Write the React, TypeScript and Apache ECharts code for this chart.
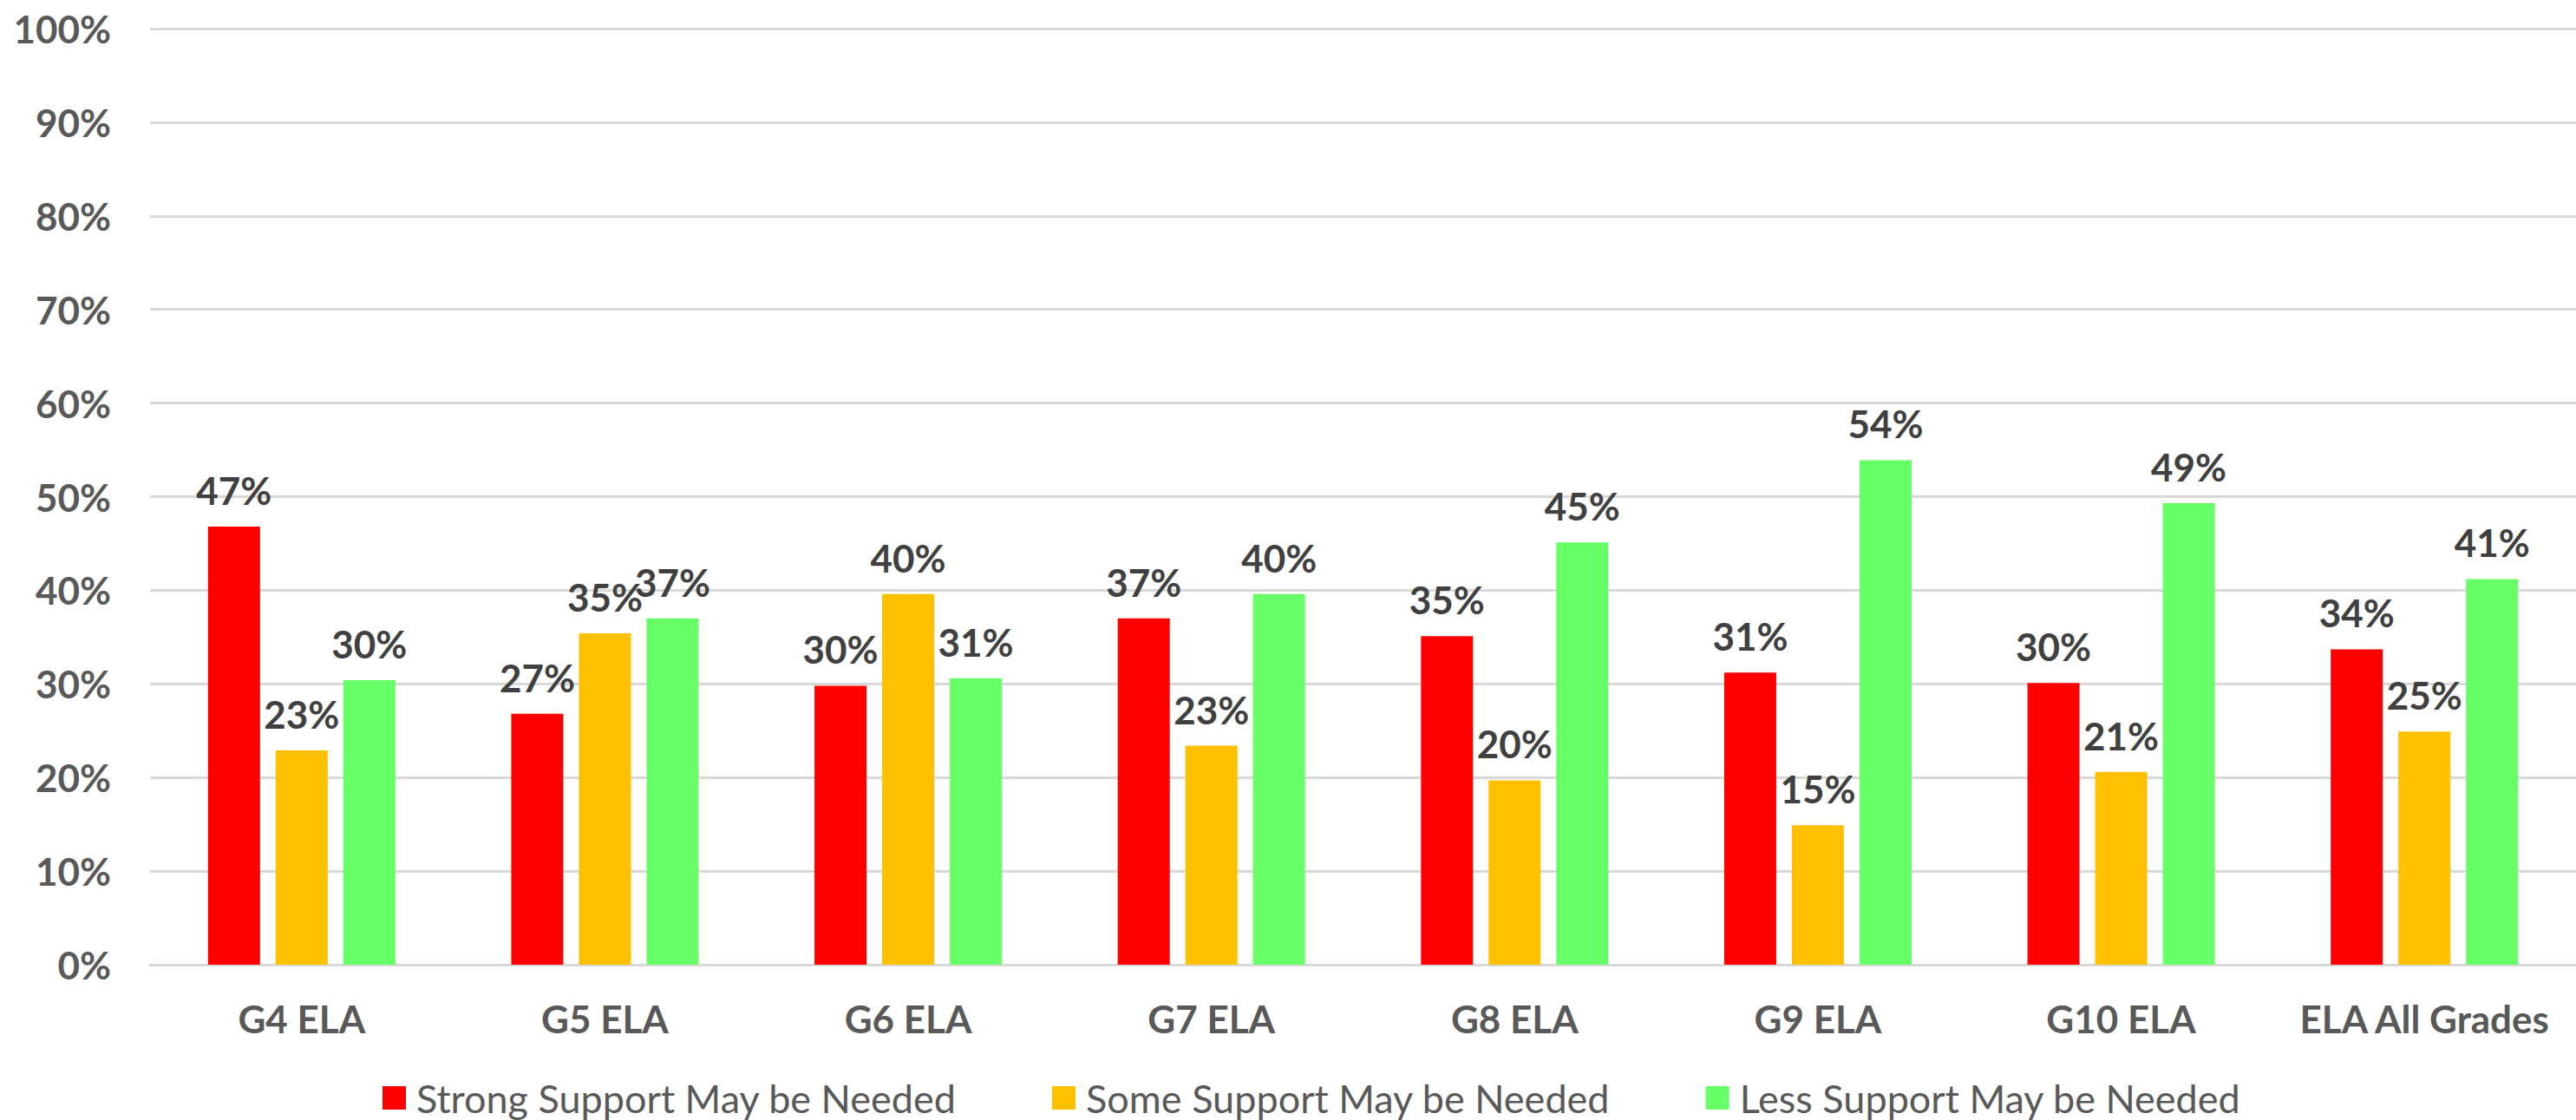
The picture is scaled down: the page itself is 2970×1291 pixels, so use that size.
import React, { useEffect, useRef } from "react";
import * as echarts from "echarts";

const categories = ["G4 ELA", "G5 ELA", "G6 ELA", "G7 ELA", "G8 ELA", "G9 ELA", "G10 ELA", "ELA All Grades"];
const strongSupport = [46.8, 26.8, 29.8, 37.0, 35.1, 31.2, 30.1, 33.7];
const someSupport = [22.9, 35.4, 39.6, 23.4, 19.7, 14.9, 20.6, 24.9];
const lessSupport = [30.4, 37.0, 30.6, 39.6, 45.1, 53.9, 49.3, 41.2];
const seriesNames = ["Strong Support May be Needed", "Some Support May be Needed", "Less Support May be Needed"];
const seriesColors = ["#FF0000", "#FFC000", "#66FF66"];
const yTicks = [0, 10, 20, 30, 40, 50, 60, 70, 80, 90, 100];

const FONT = "Lato";

export default function App() {
  const ref = useRef<HTMLDivElement>(null);
  useEffect(() => {
    if (!ref.current) return;
    const chart = echarts.init(ref.current, null, { renderer: "svg" });
    const values = [strongSupport, someSupport, lessSupport];
    chart.setOption({
      animation: false,
      backgroundColor: "#ffffff",
      textStyle: { fontFamily: FONT },
      grid: { left: 173, right: 0, top: 33, bottom: 179, containLabel: false },
      legend: {
        left: 436,
        top: 1238,
        itemWidth: 27,
        itemHeight: 27,
        itemGap: 110,
        icon: "rect",
        data: seriesNames,
        textStyle: {
          fontFamily: FONT,
          fontSize: 45,
          lineHeight: 44,
          color: "#595959",
          padding: [0, 0, 0, 7],
        },
      },
      xAxis: {
        type: "category",
        data: categories,
        axisLine: { show: true, lineStyle: { color: "#d9d9d9", width: 3 } },
        axisTick: { show: false },
        axisLabel: {
          interval: 0,
          fontFamily: FONT,
          fontSize: 44,
          fontWeight: "bold",
          color: "#595959",
          margin: 40,
        },
      },
      yAxis: {
        type: "value",
        min: yTicks[0],
        max: yTicks[yTicks.length - 1],
        interval: 10,
        axisLine: { show: false },
        axisTick: { show: false },
        splitLine: { lineStyle: { color: "#d9d9d9", width: 3 } },
        axisLabel: {
          fontFamily: FONT,
          fontSize: 44,
          fontWeight: "bold",
          color: "#595959",
          margin: 45,
          formatter: (v: number) => `${v}%`,
        },
      },
      series: seriesNames.map((name, i) => ({
        name,
        type: "bar",
        data: values[i],
        barWidth: 60,
        barGap: "30%",
        itemStyle: { color: seriesColors[i] },
        label: {
          show: true,
          position: "top",
          distance: 20,
          fontFamily: FONT,
          fontSize: 44,
          fontWeight: "bold",
          color: "#404040",
          formatter: (p: any) => `${Math.round(p.value)}%`,
        },
      })),
    });
    return () => chart.dispose();
  }, []);
  return (
    <div
      ref={ref}
      style={{ position: "fixed", left: 0, top: 0, width: 2970, height: 1291, background: "#fff" }}
    />
  );
}
